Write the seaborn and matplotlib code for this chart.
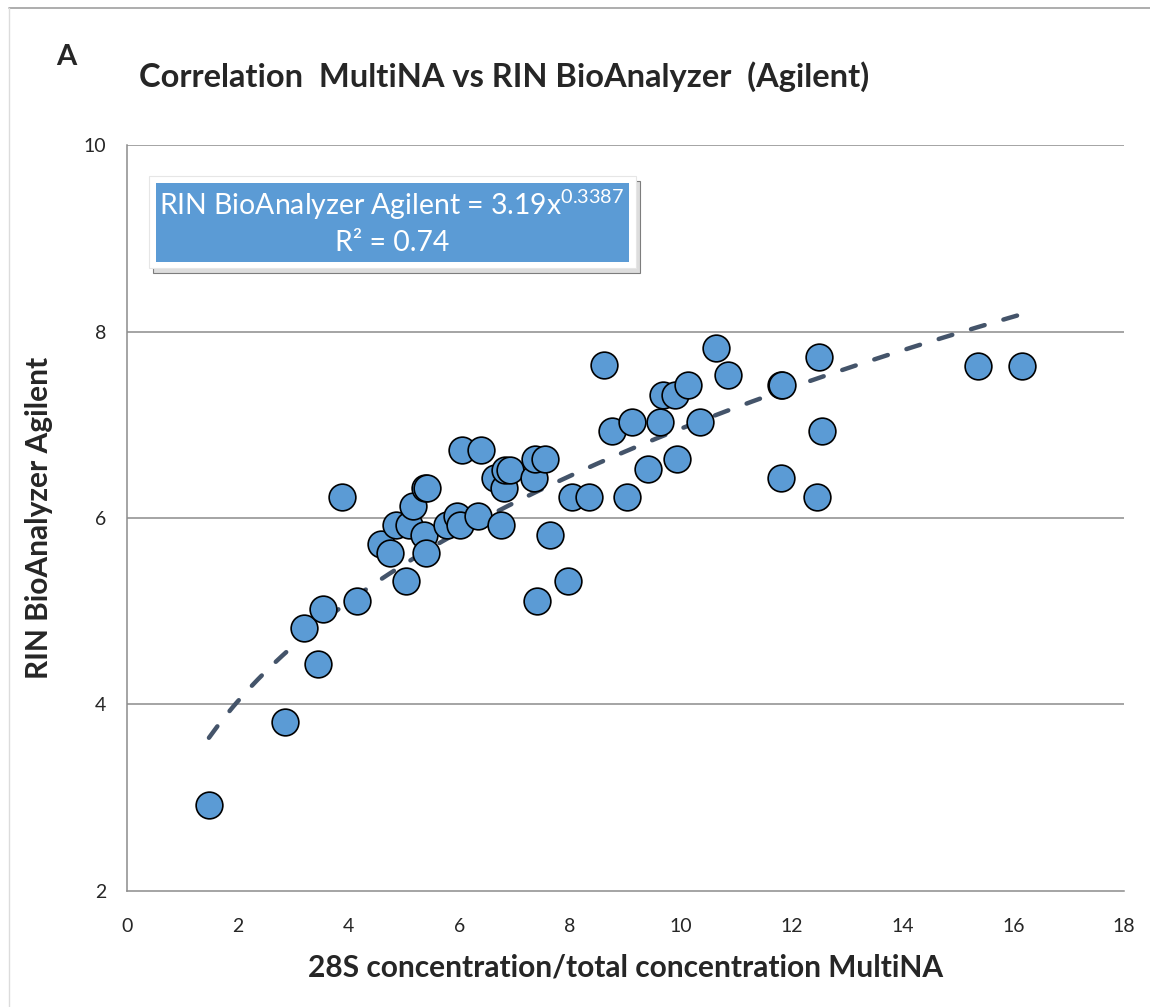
import seaborn as sns
import pandas as pd
import matplotlib.pyplot as plt
import numpy as np
from matplotlib.patches import Rectangle, Shadow
from matplotlib.lines import Line2D

# Points
multina_ratio = [1.48, 2.86, 3.20, 3.45, 3.54, 3.89, 4.16, 4.58, 4.74, 4.86,
                 5.04, 5.10, 5.17, 5.37, 5.39, 5.38, 5.41, 5.78, 5.95, 6.01,
                 6.04, 6.33, 6.39, 6.65, 6.76, 6.80, 6.82, 6.92, 7.34, 7.36,
                 7.41, 7.55, 7.63, 7.96, 8.03, 8.35, 8.61, 8.76, 9.03, 9.12,
                 9.40, 9.63, 9.67, 9.90, 9.93, 10.13, 10.34, 10.63, 10.85, 11.80,
                 11.83, 11.81, 12.46, 12.49, 12.55, 15.36, 16.15]
rin_agilent = [2.92, 3.81, 4.82, 4.43, 5.02, 6.22, 5.11, 5.72, 5.62, 5.93,
               5.32, 5.92, 6.13, 5.82, 5.62, 6.32, 6.32, 5.92, 6.02, 5.92,
               6.73, 6.02, 6.73, 6.43, 5.93, 6.32, 6.52, 6.52, 6.43, 6.63,
               5.11, 6.63, 5.82, 5.32, 6.23, 6.23, 7.64, 6.93, 6.23, 7.03,
               6.53, 7.03, 7.32, 7.32, 6.63, 7.43, 7.03, 7.82, 7.53, 7.43,
               7.43, 6.43, 6.23, 7.73, 6.93, 7.63, 7.63]

# power trendline from the chart label
coef_a = 3.19
coef_b = 0.3387
r_squared = 0.74

df = pd.DataFrame({'ratio': multina_ratio, 'rin': rin_agilent})
xs = np.linspace(min(multina_ratio), max(multina_ratio), 200)
trend = pd.DataFrame({'ratio': xs, 'rin': coef_a * xs ** coef_b})

sns.set_style("white")
plt.rcParams['font.family'] = ['Lato', 'DejaVu Sans']
plt.rcParams['mathtext.fontset'] = 'custom'
plt.rcParams['mathtext.rm'] = 'Lato'

fig = plt.figure(figsize=(11.5, 10.07), dpi=100)
ax = fig.add_axes([0.1104, 0.1152, 0.8670, 0.7408])

grid_col = '#8c8c8c'
for yv in [4, 6, 8, 10]:
    ax.axhline(yv, color=grid_col, linewidth=1.1, zorder=0)

sns.lineplot(data=trend, x='ratio', y='rin', ax=ax, color='#44546A',
             linewidth=3.2, dashes=False, zorder=2)
ax.lines[-1].set_dashes((3.2, 4.4))
ax.lines[-1].set_dash_capstyle('round')

sns.scatterplot(data=df, x='ratio', y='rin', ax=ax, s=370, color='#5B9BD5',
                edgecolor='black', linewidth=1.2, zorder=3)

ax.set_xlim(0, 18)
ax.set_ylim(2, 10)
ax.set_xticks(range(0, 19, 2))
ax.set_yticks(range(2, 11, 2))
ax.tick_params(axis='both', which='both', direction='out', length=5,
               width=1.1, color=grid_col, labelsize=14)
ax.tick_params(axis='x', pad=14.5)
ax.tick_params(axis='y', pad=10)

for s in ['top', 'right']:
    ax.spines[s].set_visible(False)
for s in ['left', 'bottom']:
    ax.spines[s].set_color(grid_col)
    ax.spines[s].set_linewidth(1.1)

ax.set_xlabel('28S concentration/total concentration MultiNA',
              fontsize=21.5, fontweight='bold', labelpad=13)
ax.set_ylabel('RIN BioAnalyzer Agilent', fontsize=21.5, fontweight='bold',
              labelpad=22)

# equation box
frame = Rectangle((0.0221, 0.8351), 0.4884, 0.1233, transform=ax.transAxes,
                  facecolor='white', edgecolor='#e6e6e6', linewidth=0.8,
                  zorder=4)
shadow = Shadow(frame, 0.003, -0.005, facecolor='#cfcfcf', alpha=0.7,
                zorder=3.9)
ax.add_patch(shadow)
ax.add_patch(frame)
ax.add_patch(Rectangle((0.0291, 0.843), 0.4744, 0.106, transform=ax.transAxes,
                       facecolor='#5B9BD5', edgecolor='none', zorder=5))
ax.text(0.2658, 0.9196,
        'RIN BioAnalyzer Agilent = %.2fx$\\mathregular{^{%.4f}}$' % (coef_a, coef_b),
        transform=ax.transAxes, ha='center', va='center', color='white',
        fontsize=20.4, zorder=6)
ax.text(0.2658, 0.8686, 'R² = %.2f' % r_squared, transform=ax.transAxes,
        ha='center', va='center', color='white', fontsize=20.4, zorder=6)

fig.text(0.058, 0.943, 'A', fontsize=21, fontweight='bold', ha='center',
         va='center')
fig.text(0.438, 0.9235, 'Correlation  MultiNA vs RIN BioAnalyzer  (Agilent)',
         fontsize=23.5, fontweight='bold', ha='center', va='center')

# chart area border (top and left)
fig.add_artist(Line2D([0.008, 1.0], [0.992, 0.992], transform=fig.transFigure,
                      color='#a0a0a0', linewidth=1.2))
fig.add_artist(Line2D([0.008, 0.008], [0.0, 0.992], transform=fig.transFigure,
                      color='#dcdcdc', linewidth=1.0))

fig.savefig('out.png', dpi=100)
